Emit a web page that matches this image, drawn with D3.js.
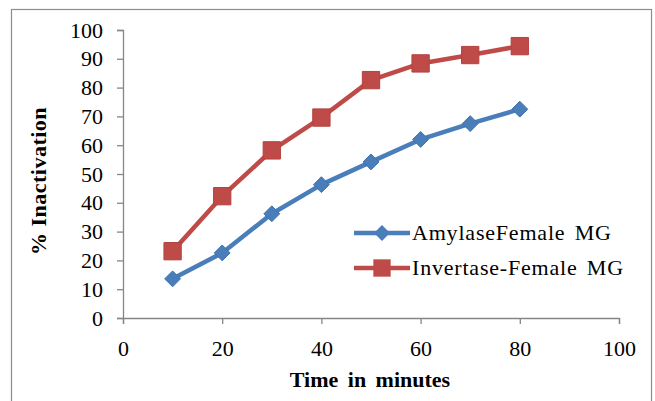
<!DOCTYPE html>
<html>
<head>
<meta charset="UTF-8">
<script src="https://d3js.org/d3.v7.min.js"></script>
<style>
  body { margin: 0; background: #fff; }
  text { font-family: "Liberation Serif", "Times New Roman", serif; fill: #000; }
</style>
</head>
<body>
<div id="chart"></div>
<script>
const times = [10, 20, 30, 40, 50, 60, 70, 80];
const amylase = [13.6, 22.6, 36.2, 46.3, 54.2, 62, 67.5, 72.5];
const invertase = [23.2, 42.3, 58.2, 69.6, 82.6, 88.4, 91.3, 94.4];
const xTicks = [0, 20, 40, 60, 80, 100];
const yTicks = [0, 10, 20, 30, 40, 50, 60, 70, 80, 90, 100];
const seriesNames = ["AmylaseFemale MG", "Invertase-Female MG"];

const width = 655, height = 401;
const margin = {left: 123, right: 36, top: 30, bottom: 83};

const svg = d3.select("#chart").append("svg").attr("width", width).attr("height", height);

// frame
svg.append("rect").attr("x", 11.5).attr("y", 9.5).attr("width", 640).attr("height", 420)
  .attr("fill", "none").attr("stroke", "#8c8c8c").attr("stroke-width", 1.2);

const x = d3.scaleLinear().domain([0, 100]).range([margin.left, width - margin.right]);
const y = d3.scaleLinear().domain([0, 100]).range([height - margin.bottom, margin.top]);

const axisColor = "#868686";

const gx = svg.append("g").attr("transform", `translate(0,${y(0)})`)
  .call(d3.axisBottom(x).tickValues(xTicks).tickSize(6).tickPadding(16));
const gy = svg.append("g").attr("transform", `translate(${x(0)},0)`)
  .call(d3.axisLeft(y).tickValues(yTicks).tickSize(6).tickPadding(14));
[gx, gy].forEach(g => {
  g.select(".domain").attr("stroke", axisColor).attr("stroke-width", 1.3);
  g.selectAll(".tick line").attr("stroke", axisColor).attr("stroke-width", 1.3);
  g.selectAll(".tick text").attr("fill", "#000").style("font-size", "22px")
    .style("font-family", "'Liberation Serif', serif");
});

svg.append("text").attr("x", 370).attr("y", 387).attr("text-anchor", "middle")
  .style("font-size", "22px").style("font-weight", "bold").style("word-spacing", "4px")
  .text("Time in minutes");
svg.append("text").attr("transform", `translate(46,181) rotate(-90)`)
  .attr("text-anchor", "middle").style("font-size", "22px").style("font-weight", "bold")
  .style("letter-spacing", "0.5px").text("% Inactivation");

const line = d3.line().x(d => x(d[0])).y(d => y(d[1]));
const blue = "#4A7EBB", red = "#BE4B48";

const diamond = d3.symbol().type(d3.symbolDiamond2).size(160);
const square = d3.symbol().type(d3.symbolSquare).size(300);

// invertase
svg.append("path").attr("d", line(d3.zip(times, invertase))).attr("fill", "none")
  .attr("stroke", red).attr("stroke-width", 4.5).attr("stroke-linejoin", "round");
svg.selectAll(".sq").data(d3.zip(times, invertase)).join("path")
  .attr("transform", d => `translate(${x(d[0])},${y(d[1])})`).attr("d", square)
  .attr("fill", red).attr("stroke", "#b5423f").attr("stroke-width", 1);

// amylase
svg.append("path").attr("d", line(d3.zip(times, amylase))).attr("fill", "none")
  .attr("stroke", blue).attr("stroke-width", 4.5).attr("stroke-linejoin", "round");
svg.selectAll(".dm").data(d3.zip(times, amylase)).join("path")
  .attr("transform", d => `translate(${x(d[0])},${y(d[1])})`).attr("d", diamond)
  .attr("fill", blue).attr("stroke", "#3f72ad").attr("stroke-width", 1);

// legend
const legend = svg.append("g");
const lg = [{name: seriesNames[0], color: blue, sym: diamond, y: 233},
            {name: seriesNames[1], color: red, sym: square, y: 268}];
lg.forEach(d => {
  legend.append("line").attr("x1", 354).attr("x2", 410).attr("y1", d.y).attr("y2", d.y)
    .attr("stroke", d.color).attr("stroke-width", 4.5);
  legend.append("path").attr("transform", `translate(382,${d.y})`).attr("d", d.sym)
    .attr("fill", d.color);
  legend.append("text").attr("x", 412).attr("y", d.y + 7).style("font-size", "22px")
    .style("letter-spacing", "0.8px").style("word-spacing", "3px").text(d.name);
});
</script>
</body>
</html>
